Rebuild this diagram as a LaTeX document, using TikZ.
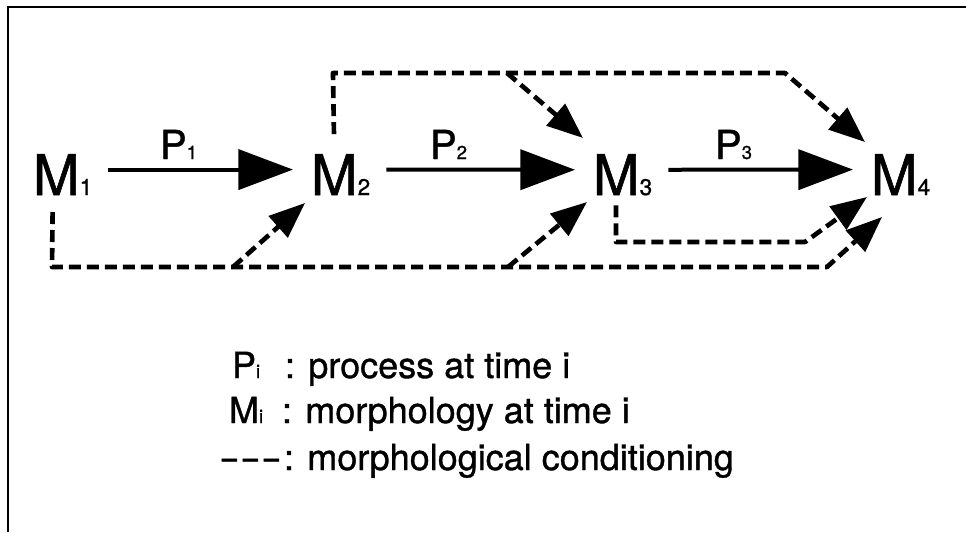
\documentclass[tikz,border=0pt]{standalone}
\usepackage{fontspec}
\usepackage{graphicx}
\setmainfont{TeX Gyre Heros}
\newfontfamily\heavy{TeX Gyre Heros}[FakeBold=1]
\usetikzlibrary{arrows.meta}

% large symbol with a small index set on the baseline
\newcommand{\bigsym}[2]{{\heavy\fontsize{42}{42}\selectfont #1}{\heavy\fontsize{17}{17}\selectfont #2}}
\newcommand{\proclabel}[1]{{\heavy\fontsize{30}{30}\selectfont P}{\heavy\fontsize{14}{14}\selectfont #1}}
\newcommand{\legendfont}{\heavy\fontsize{27}{27}\selectfont}
\newcommand{\legendsub}[1]{{\fontsize{14}{14}\selectfont #1}}

\begin{document}
\begin{tikzpicture}[x=0.75pt,y=-0.75pt,
  txt/.style={inner sep=0pt, outer sep=0pt, anchor=base west},
  procarrow/.style={line width=3pt, -{Triangle[length=41pt,width=30pt]}},
  cond/.style={line width=3.5pt, dash pattern=on 9pt off 4.5pt, line join=round},
  condarrow/.style={cond, -{Triangle[length=27pt,width=21pt]}},
  frameline/.style={line width=2pt, line join=miter}]

\useasboundingbox (0,0) rectangle (966,532);

% frame: top and left rules
\draw[frameline] (8,532) -- (8,7) -- (966,7);

% morphology states
\node[txt] (m1) at (33,195)  {\bigsym{M}{1}};
\node[txt] (m2) at (311,195) {\bigsym{M}{2}};
\node[txt] (m3) at (593,195) {\bigsym{M}{3}};
\node[txt] (m4) at (871,195) {\bigsym{M}{4}};

% processes
\draw[procarrow] ([xshift=12pt,yshift=3.75pt]m1.east) -- ([xshift=-13.5pt,yshift=3.75pt]m2.west);
\draw[procarrow] ([xshift=12pt,yshift=3.75pt]m2.east) -- ([xshift=-13.5pt,yshift=3.75pt]m3.west);
\draw[procarrow] ([xshift=12pt,yshift=3.75pt]m3.east) -- ([xshift=-13.5pt,yshift=3.75pt]m4.west);
\node[txt] (p1) at (160,159) {\proclabel{1}};
\node[txt] (p2) at (430,159) {\proclabel{2}};
\node[txt] (p3) at (715,159) {\proclabel{3}};

% waypoints of the conditioning lines
\coordinate (top2)   at (333,73);
\coordinate (topbr)  at (507,73);
\coordinate (topend) at (785,73);
\coordinate (t3a)    at (583,138);
\coordinate (t4a)    at (865,142);
\coordinate (bot1)   at (52,267);
\coordinate (botbr2) at (233,267);
\coordinate (botbr3) at (508,267);
\coordinate (botend) at (827,267);
\coordinate (t2)     at (305,203);
\coordinate (t3b)    at (587,202);
\coordinate (t4c)    at (882,217);
\coordinate (mid3)   at (616,242);
\coordinate (midend) at (805,242);
\coordinate (t4b)    at (867,197);

% morphological conditioning
\draw[condarrow] ([xshift=-5pt,yshift=15pt]m2.north) -- (top2) -- (topend) -- (t4a);
\draw[condarrow] (topbr) -- (t3a);
\draw[condarrow] ([xshift=-7.5pt,yshift=-12.75pt]m1.south) -- (bot1) -- (botend) -- (t4c);
\draw[condarrow] (botbr2) -- (t2);
\draw[condarrow] (botbr3) -- (t3b);
\draw[condarrow] ([xshift=-5pt,yshift=-7.5pt]m3.south) -- (mid3) -- (midend) -- (t4b);

% legend
\node[txt] (lp)  at (232,378) {\legendfont P\legendsub{i}};
\node[txt] (lpt) at (285,378) {\legendfont : process at time i};
\node[txt] (lm)  at (229,423) {\legendfont M\legendsub{i}};
\node[txt] (lmt) at (282,423) {\legendfont : morphology at time i};
\node[txt] (ld)  at (219,470) {\legendfont\scalebox{1.75}[1]{-{}-{}-}};
\node[txt] (ldt) at (284,470) {\legendfont : morphological conditioning};
\end{tikzpicture}
\end{document}
